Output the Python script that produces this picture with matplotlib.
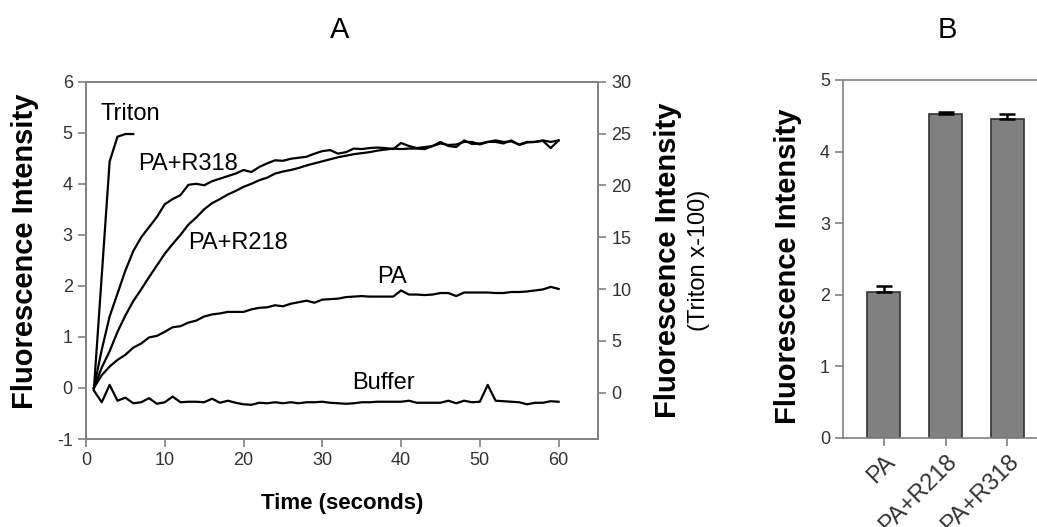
import matplotlib
matplotlib.use('Agg')
import matplotlib.pyplot as plt
import numpy as np

plt.rcParams['font.family'] = ['Liberation Sans', 'DejaVu Sans']
plt.rcParams['axes.unicode_minus'] = False

# ---- data ----
time = np.arange(1, 61)

buffer_vals = [-0.05, -0.28, 0.06, -0.25, -0.19, -0.30, -0.28, -0.20, -0.31, -0.28,
               -0.17, -0.28, -0.27, -0.27, -0.28, -0.21, -0.29, -0.25, -0.29, -0.32,
               -0.33, -0.29, -0.30, -0.28, -0.30, -0.28, -0.30, -0.28, -0.28, -0.27,
               -0.29, -0.30, -0.31, -0.30, -0.28, -0.28, -0.27, -0.27, -0.27, -0.27,
               -0.25, -0.29, -0.29, -0.29, -0.29, -0.25, -0.30, -0.25, -0.28, -0.27,
               0.06, -0.25, -0.26, -0.27, -0.28, -0.32, -0.29, -0.29, -0.26, -0.27]

pa_vals = [0.00, 0.25, 0.42, 0.55, 0.65, 0.79, 0.87, 0.99, 1.02, 1.10,
           1.19, 1.21, 1.28, 1.32, 1.40, 1.44, 1.46, 1.49, 1.49, 1.49,
           1.54, 1.57, 1.58, 1.62, 1.60, 1.65, 1.68, 1.71, 1.67, 1.73,
           1.74, 1.75, 1.78, 1.79, 1.80, 1.79, 1.79, 1.79, 1.79, 1.91,
           1.83, 1.83, 1.82, 1.83, 1.86, 1.86, 1.80, 1.87, 1.87, 1.87,
           1.87, 1.86, 1.86, 1.88, 1.88, 1.89, 1.91, 1.93, 1.98, 1.94]

r218_vals = [0.00, 0.40, 0.72, 1.10, 1.42, 1.70, 1.93, 2.17, 2.40, 2.63,
             2.82, 3.00, 3.20, 3.34, 3.50, 3.62, 3.70, 3.79, 3.86, 3.94,
             4.00, 4.07, 4.12, 4.20, 4.24, 4.27, 4.31, 4.36, 4.40, 4.44,
             4.48, 4.52, 4.55, 4.58, 4.60, 4.62, 4.65, 4.67, 4.69, 4.68,
             4.69, 4.69, 4.68, 4.74, 4.79, 4.76, 4.77, 4.82, 4.82, 4.77,
             4.82, 4.85, 4.82, 4.83, 4.77, 4.82, 4.82, 4.85, 4.82, 4.85]

r318_vals = [0.00, 0.75, 1.40, 1.85, 2.30, 2.68, 2.95, 3.15, 3.35, 3.60,
             3.70, 3.78, 3.98, 4.00, 3.97, 4.05, 4.10, 4.15, 4.20, 4.27,
             4.23, 4.33, 4.40, 4.46, 4.45, 4.49, 4.51, 4.53, 4.59, 4.64,
             4.66, 4.59, 4.62, 4.69, 4.68, 4.70, 4.71, 4.70, 4.68, 4.80,
             4.74, 4.70, 4.72, 4.74, 4.82, 4.74, 4.72, 4.85, 4.78, 4.79,
             4.82, 4.82, 4.79, 4.85, 4.76, 4.81, 4.82, 4.84, 4.70, 4.85]

# Triton is on the right axis (x-100 scale)
triton_time = [1, 2, 3, 4, 5, 6]
triton_vals = [0.3, 11.3, 22.3, 24.7, 24.95, 24.95]

bar_labels = ['PA', 'PA+R218', 'PA+R318']
bar_means = [2.04, 4.52, 4.46]
bar_err = [0.08, 0.03, 0.07]

# ---- figure ----
W, H = 1037, 527
fig = plt.figure(figsize=(W / 100, H / 100), dpi=100)

spine_col = '#808080'
tick_col = '#333333'


def box(l, t, r, b):
    return [l / W, 1 - b / H, (r - l) / W, (b - t) / H]


def style(ax):
    for s in ax.spines.values():
        s.set_color(spine_col)
        s.set_linewidth(1.2)
    ax.tick_params(direction='out', length=6, width=1.2, color=spine_col,
                   labelsize=13, labelcolor=tick_col)


# Panel A
ax = fig.add_axes(box(86, 81.7, 598, 439))
style(ax)
ax.plot(time, buffer_vals, color='black', lw=1.6)
ax.plot(time, pa_vals, color='black', lw=1.6)
ax.plot(time, r218_vals, color='black', lw=1.6)
ax.plot(time, r318_vals, color='black', lw=1.6)
ax.set_xlim(0, 65)
ax.set_ylim(-1, 6)
ax.set_xticks(np.arange(0, 61, 10))
ax.set_yticks(np.arange(-1, 7, 1))

ax2 = ax.twinx()
style(ax2)
ax2.plot(triton_time, triton_vals, color='black', lw=1.6)
ax2.set_ylim(-4.47, 30)
ax2.set_yticks(np.arange(0, 31, 5))

ann = 17
ax.text(1.8, 5.36, 'Triton', fontsize=ann, ha='left', va='center')
ax.text(6.6, 4.38, 'PA+R318', fontsize=ann, ha='left', va='center')
ax.text(13.0, 2.84, 'PA+R218', fontsize=ann, ha='left', va='center')
ax.text(38.8, 2.18, 'PA', fontsize=ann, ha='center', va='center')
ax.text(37.7, 0.10, 'Buffer', fontsize=ann, ha='center', va='center')

fig.text(25 / W, 1 - 251 / H, 'Fluorescence Intensity', rotation=90,
         fontsize=21, fontweight='bold', ha='center', va='center')
fig.text(342 / W, 1 - 503 / H, 'Time (seconds)', fontsize=16,
         fontweight='bold', ha='center', va='center')
fig.text(668 / W, 1 - 260 / H, 'Fluorescence Intensity', rotation=90,
         fontsize=21, fontweight='bold', ha='center', va='center')
fig.text(699 / W, 1 - 260 / H, '(Triton x-100)', rotation=90,
         fontsize=17, ha='center', va='center')

# Panel B
bx = fig.add_axes(box(843.3, 80, 1048, 437.7))
style(bx)
x = np.arange(len(bar_labels))
bx.bar(x, bar_means, width=0.53, color='#808080', edgecolor='#333333', linewidth=1.2)
bx.errorbar(x, bar_means, yerr=[np.zeros(len(bar_err)), bar_err], fmt='none',
            ecolor='black', elinewidth=1.8, capsize=6, capthick=1.8)
bx.set_xlim(-0.655, 2.655)
bx.set_ylim(0, 5)
bx.set_yticks(np.arange(0, 6, 1))
bx.set_xticks(x)
bx.set_xticklabels(bar_labels, rotation=45, ha='right', va='top',
                   rotation_mode='anchor', fontsize=17)
fig.text(788 / W, 1 - 266 / H, 'Fluorescence Intensity', rotation=90,
         fontsize=21, fontweight='bold', ha='center', va='center')

fig.text(340 / W, 1 - 30 / H, 'A', fontsize=21, ha='center', va='center')
fig.text(947 / W, 1 - 30 / H, 'B', fontsize=21, ha='center', va='center')

fig.savefig('out.png', dpi=100)
